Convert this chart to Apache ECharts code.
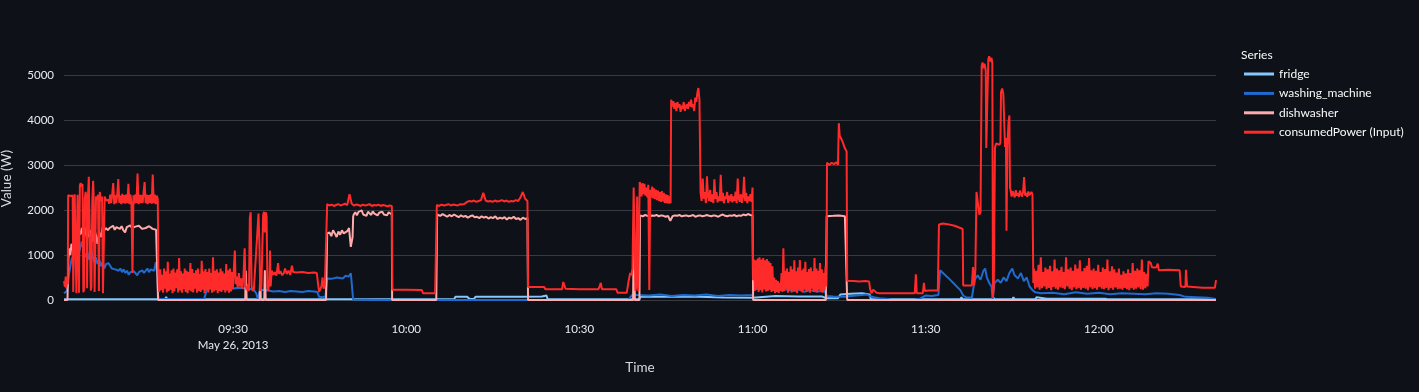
<!DOCTYPE html>
<html>
<head>
<meta charset="utf-8">
<script src="https://cdn.jsdelivr.net/npm/echarts@6/dist/echarts.min.js"></script>
<style>
html,body{margin:0;padding:0;background:#0e1117;}
#chart{width:1419px;height:392px;}
</style>
</head>
<body>
<div id="chart"></div>
<script>
// Time offsets are minutes after 09:00 on May 26, 2013.
// Each entry is either [t, value] or [tStart, tEnd, [values evenly spaced in that span]].
const seriesNames = ['fridge', 'washing_machine', 'dishwasher', 'consumedPower (Input)'];
const dateLabel = 'May 26, 2013';
const startHour = 9;
const yTicks = [0, 1000, 2000, 3000, 4000, 5000];

const fridgeData = [
[0.7,15],[17.5,15],[18.2,15],[18.4,70],[18.6,15],[68.3,15],[68.5,70],[70.5,75],[71,20],[71.7,20],[72,70],[76,75],[80,70],[83.5,80],[83.8,110],[84.3,100],[84.5,15],
[100.3,15],[100.6,70],[105,75],[110.8,70],[111,50],[115,55],[120,50],[120.3,80],[124,90],[128,80],[132,80],[132.8,40],[134.8,40],[135.2,120],[137,140],[139,150],[140.3,120],[140.5,15],
[156,15],[156.2,60],[156.4,15],[158.5,15],[158.7,50],[158.9,15],[161.5,15],[161.7,60],[161.9,15],[165,15],[165.2,60],[165.4,15],[169,15],[169.2,60],[169.4,30],[171,30],[171.2,70],[171.4,30],
[176,30],[176.2,60],[176.4,30],[181,30],[181.2,60],[181.4,20],[200.3,15]
];

const washingData = [
[0.7,150],[1.0,130],[1.2,200],[1.4,380],[1.6,600],[1.8,750],[2.0,900],[2.3,1000],[2.6,1100],[2.9,1250],[3.2,1000],[3.5,1150],[3.8,1300],[4.1,1100],[4.4,950],[4.7,1050],[5.0,900],[5.3,1200],[5.6,1000],[5.9,850],[6.2,950],[6.5,800],[6.8,900],[7.1,750],[7.4,850],[7.7,700],[8.0,800],
[8.4,16.9,[820,760,700,740,680,720,650,700,620,680,600,650,560,620,580,640,600,550,620,580,660,600,640,700,620,680,720,650,840,560]],
[17.0,100],[17.1,30],[20,20],[25.0,30],[25.5,250],[27,260],[29,240],[31,270],[32.5,250],[33.5,240],[34.0,150],[34.3,20],[34.6,200],[35.0,230],[36,210],[37,190],[38,200],[39,180],[40,200],[41,190],[42,180],[43,200],[44,190],[44.6,180],[44.9,70],[45.5,60],[46.0,80],
[46.3,480],[47,470],[48,500],[49,480],[49.5,540],[50,520],[50.4,590],[50.7,560],[50.8,10],[55,0],[65,0],[80,0],[98.5,0],
[98.8,60],[99.2,120],[99.5,90],[100,110],[102,100],[104,120],[106,90],[108,110],[110,100],[112,120],[114,90],[116,110],[118,100],[120,110],
[120.2,250],[121,240],[122,260],[123,250],[124,220],[125,230],[126,240],[127,200],[128,230],[129,180],[130,220],[131,190],[132.5,200],[132.9,90],[134,80],[136,70],[137,90],[138,100],[139,110],[139.8,120],[140.3,90],[141,60],[142,40],[143.5,20],[144,0],[148,0],[149,30],[150,100],[151,90],[152.2,110],
[152.5,660],[153,600],[154,480],[155,350],[156,220],[156.5,100],[157,60],[158,50],[158.5,450],[159.0,550],[159.5,450],[160.0,650],[160.3,700],[160.6,500],[161.0,380],[161.4,300],[161.6,0],[161.9,380],[162.5,450],[163.0,380],[163.5,500],[164.0,420],[164.5,600],[165.0,700],[165.4,550],[166.0,480],[166.5,600],[167.0,420],[167.5,500],[168.0,300],[168.5,220],
[169,170],[170,150],[172,160],[174,130],[176,170],[178,140],[180,160],[182,130],[184,150],[186,140],[188,130],[190,150],[192,140],[194,110],[195,70],[197,60],[198.9,50],[199.2,20],[200.3,20]
];

const dishwasherData = [
[0.7,0],[1.3,0],[1.45,900],[1.6,1150],[1.8,1000],[2.0,1250],[2.3,1100],[2.6,1400],[2.9,1250],[3.2,1550],[3.5,1450],[3.8,1600],[4.1,1350],[4.4,1500],[4.7,1650],[5.0,1400],[5.3,1550],[5.6,1300],[5.9,1600],[6.2,1450],[6.5,1250],[6.8,1500],[7.1,1400],[7.4,1620],[7.7,1550],[8.0,1600],
[8.3,16.95,[1550,1600,1580,1650,1560,1620,1600,1580,1640,1550,1500,1620,1590,1660,1600,1570,1630,1600,1650,1610,1580,1620,1600,1570,1640,1600,1580,1620,1560,1600]],
[17.0,0],[32.1,0],[32.2,650],[32.35,0],[34.6,0],[34.7,640],[34.8,0],[35.4,0],[35.5,660],[35.65,0],[46.1,0],
[46.3,1480],
[46.4,50.7,[1450,1500,1420,1550,1480,1400,1520,1450,1550,1480,1500,1530,1600,1180,1400]],
[50.8,1850],
[50.9,57.5,[1900,1950,1880,1960,1920,1990,1900,1940,1870,1960,1930,1890,1970,1920,1950,1880,1940,1910,1960,1900,1930,1880,1950,1920,1900]],
[57.55,0],[65.2,0],[65.35,1900],
[65.5,81.0,[1900,1870,1910,1880,1850,1890,1860,1900,1870,1840,1880,1850,1870,1830,1860,1880,1840,1850,1820,1860,1830,1850,1810,1840,1820,1860,1800,1830,1810,1840,1790,1830,1810,1850,1800,1820,1780,1830,1800,1820]],
[81.1,0],[99.3,0],[99.45,1780],[99.6,0],[100.4,0],[100.5,1880],
[100.6,120.0,[1880,1860,1890,1870,1850,1880,1870,1890,1860,1880,1870,1850,1870,1760,1860,1880,1870,1890,1860,1870,1880,1860,1870,1890,1850,1870,1880,1860,1870,1890,1870,1860,1880,1870,1850,1880,1900,1870,1860,1880,1870,1890,1860,1880,1870,1900,1880,1910,1890,1880]],
[120.1,0],[132.7,0],[132.85,1860],[133,1880],[134,1870],[135,1880],[136,1860],[136.3,1870],[136.4,0],[200.3,0]
];

const powerData = [
[0.7,420],[0.85,300],[1.0,520],[1.1,260],[1.25,480],[1.35,350],
[1.42,2330],[1.6,2350],[1.8,2310],[2.0,2340],[2.2,2320],[2.3,180],[2.45,200],[2.55,2350],[2.7,2330],[2.85,150],[2.95,180],[3.05,2340],[3.2,2300],[3.3,160],
[3.45,2550],[3.6,2600],[3.75,2520],[3.9,2580],[4.05,170],[4.15,220],[4.3,2250],[4.45,2400],[4.6,2280],[4.7,260],[4.85,2300],[5.0,2740],[5.05,2250],[5.2,2230],[5.35,210],[5.45,300],
[5.6,2200],[5.75,2650],[5.85,2250],[6.0,180],[6.1,160],[6.25,2300],[6.45,2250],[6.6,2340],[6.75,200],[6.9,2400],[7.1,2200],[7.3,2300],[7.45,150],[7.6,180],[7.75,2300],[8.0,2210],[8.2,2250],
[8.35,16.95,[2230,2140,2340,2150,2350,2600,2130,2330,2150,2340,2690,2160,2320,2130,2360,2150,2330,2140,2350,2160,2580,2130,2340,2150,600,2330,2140,2350,2160,2810,2130,2340,2150,2330,2160,2140,2620,2150,2340,2130,2330,2160,2350,2140,2790,2150,2340,2130,2320,2240]],
[17.05,29.95,[620,180,680,220,560,160,700,250,640,170,850,200,590,230,660,150,700,190,610,260,680,170,930,210,640,160,590,240,700,180,650,150,620,220,820,190,690,170,600,250,660,160,700,200,580,180,870,230,640,150,690,210,620,170,700,240,600,160,950,190,650,220,680,150,610,200,700,180,640,230,590,170,800,210,660,160,700,190,620,240]],
[30.1,620],[30.3,1100],[30.45,350],[30.6,520],[30.8,280],[31.0,600],[31.2,300],[31.4,480],[31.6,250],[31.8,550],[32.0,1150],[32.15,300],[32.4,220],[32.6,350],[32.75,200],
[32.9,1820],[33.05,1950],[33.2,300],[33.4,200],[33.6,250],[34.2,1500],[34.4,1920],[34.55,1300],[34.7,200],[34.9,300],
[35.2,1880],[35.35,1960],[35.5,1500],[35.65,1950],[35.8,1850],[35.95,300],[36.1,200],[36.3,450],
[36.4,1100],[36.5,300],[36.7,650],[37.0,560],[37.3,620],[37.5,540],[37.8,820],[37.95,580],[38.2,640],[38.5,550],[38.8,600],[39.0,700],[39.3,580],[39.6,650],[39.9,560],[40.2,760],[40.4,620],
[41.0,610],[42.0,620],[43.0,600],[44.0,610],[44.5,600],
[44.7,380],[44.9,180],[45.1,150],[45.3,300],[45.5,500],[45.7,250],[45.9,350],[46.1,380],
[46.3,57.5,[2130,2100,2120,2090,2110,2130,2100,2120,2140,2110,2350,2140,2100,2120,2110,2090,2120,2100,2110,2130,2090,2110,2100,2120,2090,2110,2100,2080,2100,2090]],
[57.6,230],[60.0,230],[62.7,220],[62.9,150],[65.0,150],
[65.3,81.0,[2110,2090,2120,2100,2110,2130,2100,2120,2110,2100,2130,2120,2140,2180,2200,2190,2210,2180,2200,2220,2380,2210,2190,2200,2180,2210,2190,2200,2220,2190,2210,2180,2200,2190,2220,2200,2280,2400,2250,2200]],
[81.1,290],[83.9,290],[84.1,240],[87.0,240],[87.2,400],[87.4,420],[87.6,250],[90.0,240],[93.3,240],
[93.5,300],[93.7,380],[93.9,240],[96.4,240],[96.6,160],[98.2,160],[98.5,400],[98.8,600],[99.0,550],[99.2,700],[99.4,2500],[99.55,1500],[99.7,200],[99.85,300],[100.0,2300],[100.2,200],[100.45,2620],
[100.6,105.8,[2550,2300,2600,2350,2580,2320,2500,2280,2560,220,2450,2280,2520,2260,2480,2240,2450,2220,2430,2200,2400,2180,2420,2190,2380,2160,2350,2150,2330,2140,2300,2150]],
[105.9,110.8,[4450,4300,4420,4250,4380,4200,4400,4280,4350,4180,4320,4250,4400,4200,4300,4350,4250,4400,4300,4450,4280,4350,4200,4500,4400,4600,4710,4450]],
[111.0,120.0,[2380,2200,2700,2250,2400,2150,2750,2300,2200,2450,2180,2350,2150,2680,2250,2400,2170,2300,2200,2780,2200,2380,2150,2300,2250,2400,2160,2320,2200,2350,2170,2300,2200,2410,2150,2700,2250,2180,2350,2160,2300,2740,2200,2380,2150,2300,2200,2350,2180,2500]],
[120.1,132.8,[440,900,200,880,250,920,180,950,220,900,170,930,240,880,190,910,200,860,230,820,180,750,200,500,150,450,180,420,160,380,200,600,180,1150,200,650,250,700,160,620,230,750,170,680,220,880,190,640,150,720,240,890,200,660,170,700,230,850,180,620,210,690,160,720,250,640,180,930,200,700,170,650,230,820,190,680,160,600,220,750,300]],
[132.9,3050],[133.3,3000],[133.7,3050],[134.1,3020],[134.5,3060],[134.8,3000],[134.95,3930],[135.1,3650],[135.3,3600],[135.5,3550],[135.7,3480],[135.9,3400],[136.1,3350],[136.3,3300],
[136.4,430],[137.5,420],[138.5,410],[139.5,420],[140.2,410],[140.35,250],[140.6,150],[140.9,230],[141.2,200],[141.5,160],[142.0,150],[145.0,150],[148.1,150],[148.3,570],[148.45,150],[149.5,150],[149.7,380],[149.85,200],[150.5,210],[152.1,210],
[152.3,1680],[153.0,1700],[154.0,1680],[155.0,1650],[156.0,1600],[156.4,1580],[156.5,320],[158.0,320],[158.2,730],[158.4,330],[158.6,650],
[158.8,2400],[159.1,2420],[159.3,1900],[159.5,1950],[159.7,5200],[159.85,5280],[160.0,5150],[160.2,5250],[160.4,5100],[160.5,3380],[160.7,3400],[160.85,5350],[161.0,5420],[161.2,5300],[161.4,5380],[161.55,5250],[161.65,50],[161.8,300],
[162.0,3380],[162.2,3480],[162.5,3520],[162.8,3450],[162.95,3500],[163.05,4620],[163.25,4700],[163.45,4580],[163.65,4600],[163.75,3400],[163.9,3600],[164.0,1540],[164.15,3400],[164.35,3950],[164.5,4100],[164.6,2500],
[164.7,168.5,[2450,2300,2420,2350,2280,2440,2320,2380,2290,2430,2350,2300,2400,2730,2320,2380,2290,2410,2330,2300,2400,2350]],
[168.65,380],
[168.75,188.45,[700,250,650,280,780,230,950,260,620,300,720,240,680,270,760,220,640,290,900,250,700,230,660,280,740,260,620,240,950,300,680,250,720,220,650,280,790,240,700,260,880,230,640,270,710,250,760,220,930,280,660,240,700,260,650,230,780,290,620,250,720,240,690,270,900,220,640,260,750,230,680,280,610,240,700,250,560,230,640,270,590,240,680,220,600,260,820,230,650,250,700,280,660,240,900,230,620,260,580,300]],
[188.6,860],[189.0,820],[189.2,730],[189.6,720],[190.0,730],[190.2,810],[190.4,660],[192.0,670],[194.0,660],[194.2,300],[195.0,290],[195.1,670],[195.3,300],[195.5,280],[198.0,270],[200.1,270],[200.3,440]
];

function expand(list) {
  const out = [];
  list.forEach(function (e) {
    if (Array.isArray(e[2])) {
      const vals = e[2], n = vals.length;
      const step = n > 1 ? (e[1] - e[0]) / (n - 1) : 0;
      vals.forEach(function (v, i) { out.push([e[0] + step * i, v]); });
    } else {
      out.push([e[0], e[1]]);
    }
  });
  return out;
}

const colors = ['#83c9ff', '#1f6bd0', '#ffabab', '#ff2b2b'];
const dataSets = [fridgeData, washingData, dishwasherData, powerData];
const FONT = 'Lato, "Noto Sans", sans-serif';

const chart = echarts.init(document.getElementById('chart'), null, { renderer: 'canvas' });
const gridColor = '#383a42';

chart.setOption({
  backgroundColor: '#0e1117',
  animation: false,
  textStyle: { fontFamily: FONT },
  title: {
    text: 'Series', left: 1236, top: 44,
    textStyle: { color: '#fafafa', fontSize: 12, fontWeight: 'normal', fontFamily: FONT }
  },
  legend: {
    orient: 'vertical', left: 1239, top: 62,
    itemWidth: 30, itemHeight: 3, itemGap: 5.4, icon: 'rect',
    textStyle: { color: '#fafafa', fontSize: 12, fontFamily: FONT, lineHeight: 14, height: 14 },
    data: seriesNames
  },
  grid: { left: 64, right: 203, top: 57, bottom: 92, containLabel: false, outerBoundsMode: 'none' },
  xAxis: {
    type: 'value',
    min: 0.7,
    max: 200.3,
    splitNumber: 7,
    minInterval: 30,
    maxInterval: 30,
    axisLine: { show: false },
    axisTick: { show: false },
    splitLine: { show: false },
    axisLabel: {
      color: '#e8ecf2', fontSize: 11.5, fontFamily: FONT, margin: 21, lineHeight: 16,
      hideOverlap: false, showMinLabel: true, showMaxLabel: true,
      formatter: function (v) {
        if (Math.abs(v - Math.round(v / 30) * 30) > 1e-6) return '';
        const total = Math.round(v);
        const h = startHour + Math.floor(total / 60), m = total % 60;
        const txt = String(h).padStart(2, '0') + ':' + String(m).padStart(2, '0');
        return (total === 30) ? txt + '\n' + dateLabel : txt;
      }
    },
    name: 'Time', nameLocation: 'middle', nameGap: 61,
    nameTextStyle: { color: '#d9dadf', fontSize: 13.5, fontFamily: FONT }
  },
  yAxis: {
    type: 'value', min: 0, max: 5400, interval: 1000,
    axisLine: { show: false },
    axisTick: { show: false },
    splitLine: { show: true, lineStyle: { color: [gridColor, gridColor, gridColor, gridColor, gridColor, gridColor, 'rgba(0,0,0,0)'], width: 1 } },
    axisLabel: {
      color: '#e8ecf2', fontSize: 11.5, fontFamily: FONT, margin: 10,
      formatter: function (v) { return yTicks.indexOf(v) >= 0 ? String(v) : ''; }
    },
    name: 'Value (W)', nameLocation: 'middle', nameGap: 50, nameRotate: 90,
    nameTextStyle: { color: '#d9dadf', fontSize: 13.5, fontFamily: FONT }
  },
  series: seriesNames.map(function (name, i) {
    return {
      name: name, type: 'line', data: expand(dataSets[i]),
      showSymbol: false, symbol: 'none', sampling: null,
      lineStyle: { color: colors[i], width: 2 },
      itemStyle: { color: colors[i] },
      z: 2 + i
    };
  })
});
</script>
</body>
</html>
